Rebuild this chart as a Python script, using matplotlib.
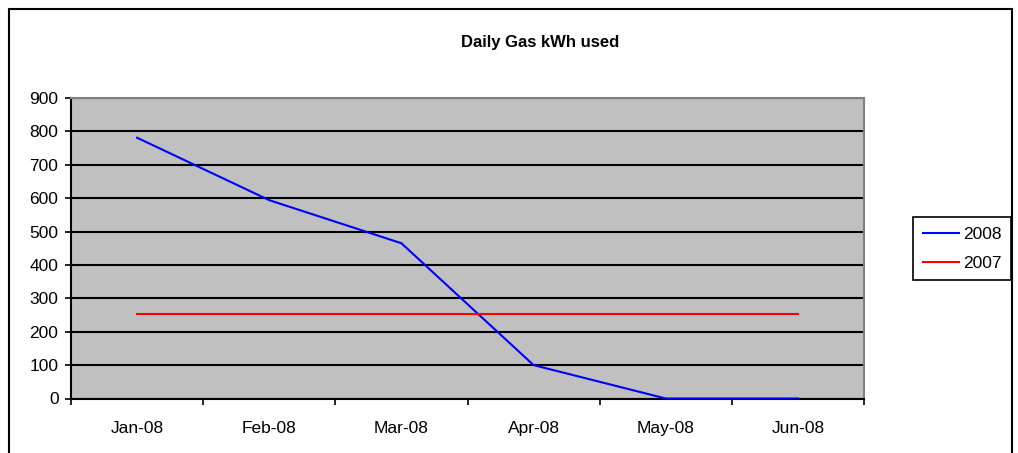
import numpy as np
import matplotlib
matplotlib.use("Agg")
from matplotlib import pyplot as plt
from matplotlib.patches import Rectangle
from matplotlib.ticker import FixedLocator, NullFormatter, FixedFormatter

### data ###

months = ['Jan-08', 'Feb-08', 'Mar-08', 'Apr-08', 'May-08', 'Jun-08']
gas_2008 = [781, 594, 465, 100, 0, 0]
gas_2007 = [254, 254, 254, 254, 254, 254]
yticks = [0, 100, 200, 300, 400, 500, 600, 700, 800, 900]

### figure ###

plt.rcParams['font.family'] = ['Liberation Sans', 'DejaVu Sans']
plt.rcParams['font.size'] = 12.5

W, H = 1018, 453
fig = plt.figure(figsize=(W / 100, H / 100), dpi=100)
ax = fig.add_axes([71 / W, 1 - 398.5 / H, 793 / W, 300.5 / H])
ax.set_facecolor('#c0c0c0')

x = np.arange(len(months))
l1, = ax.plot(x, gas_2008, color='#0000ff', lw=1.5, label='2008', zorder=3)
l2, = ax.plot(x, gas_2007, color='#ff0000', lw=1.5, label='2007', zorder=3)

ax.set_xlim(-0.5, len(months) - 0.5)
ax.set_ylim(0, 900)
ax.set_yticks(yticks)
ax.yaxis.grid(True, color='black', lw=1.5)
ax.set_axisbelow(True)

# category axis: ticks between categories, labels centred
ax.xaxis.set_major_locator(FixedLocator(np.arange(-0.5, len(months), 1.0)))
ax.xaxis.set_major_formatter(NullFormatter())
ax.xaxis.set_minor_locator(FixedLocator(x))
ax.xaxis.set_minor_formatter(FixedFormatter(months))
ax.tick_params(axis='x', which='major', direction='out', length=4, width=1.2)
ax.tick_params(axis='x', which='minor', length=0, pad=16, labelsize=12.5)
ax.tick_params(axis='y', direction='out', length=4, width=1.2, pad=5, labelsize=12.5)

for s in ['top', 'right']:
    ax.spines[s].set_color('#808080')
    ax.spines[s].set_linewidth(1.5)
for s in ['left', 'bottom']:
    ax.spines[s].set_color('black')
    ax.spines[s].set_linewidth(1.5)

fig.text(540 / W, 1 - 43 / H, 'Daily Gas kWh used', ha='center', va='center',
         fontsize=12, fontweight='bold')

leg = fig.legend(handles=[l1, l2], loc='upper left',
                 bbox_to_anchor=(913 / W, 1 - 217 / H), fancybox=False,
                 edgecolor='black', framealpha=1, fontsize=12.5,
                 handlelength=2.1, handletextpad=0.25, borderpad=0.55,
                 labelspacing=0.8, borderaxespad=0)
leg.get_frame().set_linewidth(1.2)

# outer chart border
fig.add_artist(Rectangle((9 / W, -0.1), 1003 / W, 1.1 - 9 / H,
                         transform=fig.transFigure, fill=False,
                         edgecolor='black', lw=1.5))

fig.savefig('out.png', dpi=100)
